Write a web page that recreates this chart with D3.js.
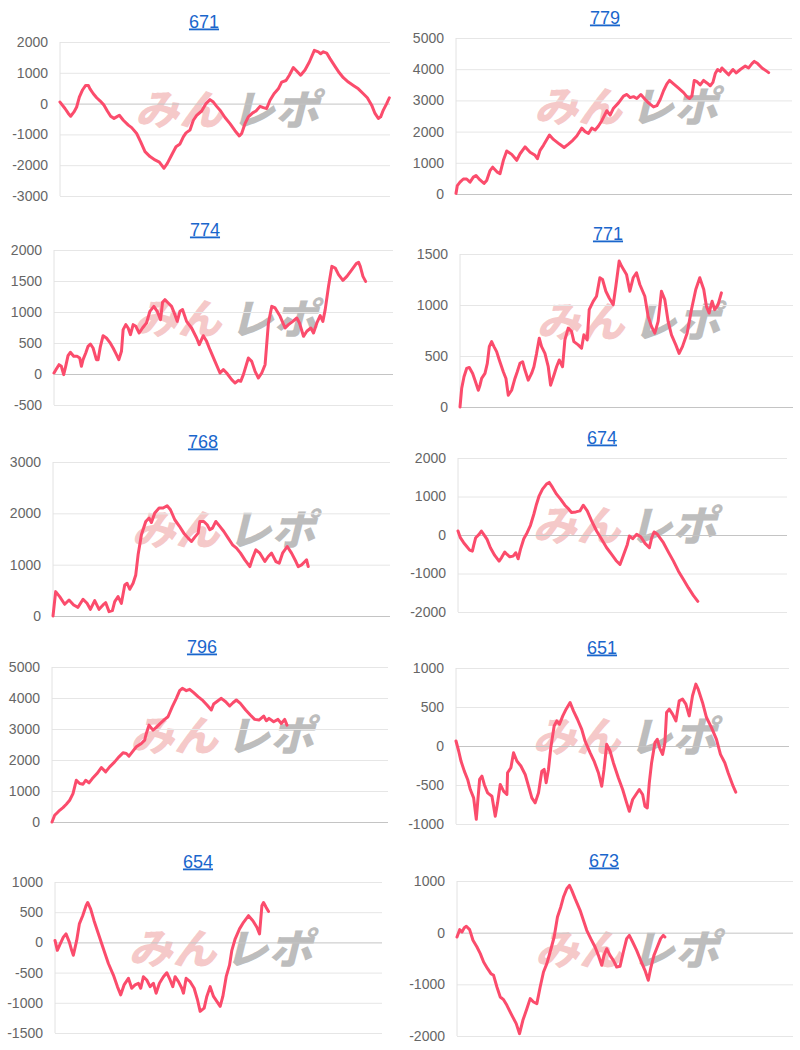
<!DOCTYPE html>
<html><head><meta charset="utf-8">
<script src="https://cdn.jsdelivr.net/npm/d3@7"></script>
<style>body{margin:0;background:#fff;} svg{display:block}</style>
</head><body>
<svg id="c" width="800" height="1050"></svg>
<script>
// ---------- DATA ----------
const machines = ["671","779","774","771","768","674","796","651","654","673"];

const ticks671 = [-3000,-2000,-1000,0,1000,2000];
const ticks779 = [0,1000,2000,3000,4000,5000];
const ticks774 = [-500,0,500,1000,1500,2000];
const ticks771 = [0,500,1000,1500];
const ticks768 = [0,1000,2000,3000];
const ticks674 = [-2000,-1000,0,1000,2000];
const ticks796 = [0,1000,2000,3000,4000,5000];
const ticks651 = [-1000,-500,0,500,1000];
const ticks654 = [-1500,-1000,-500,0,500,1000];
const ticks673 = [-2000,-1000,0,1000];

// x range (games, in units of 10) shown on each chart
const xMax = [990,1007,1015,1000,1010,985,1008,1001,980,1010];

// [games/10, difference]
const s671 = [[0,50],[15,-160],[25,-320],[32,-410],[42,-270],[50,-110],[58,210],[68,450],[77,590],[85,590],[90,480],[100,320],[110,190],[120,90],[132,-50],[142,-240],[152,-410],[162,-480],[170,-430],[178,-380],[190,-540],[205,-700],[215,-780],[230,-970],[242,-1240],[255,-1560],[270,-1720],[285,-1830],[298,-1900],[312,-2100],[322,-1940],[335,-1670],[348,-1400],[360,-1310],[370,-1080],[378,-950],[390,-860],[400,-540],[410,-380],[425,-240],[438,0],[450,130],[460,50],[470,-90],[482,-240],[495,-450],[510,-650],[525,-880],[538,-1050],[545,-970],[555,-650],[565,-430],[578,-300],[588,-240],[600,-90],[610,-130],[620,-160],[630,110],[642,320],[655,480],[665,700],[678,750],[688,920],[700,1170],[710,1060],[722,920],[735,1090],[748,1350],[763,1730],[775,1680],[782,1620],[790,1680],[800,1640],[810,1460],[825,1210],[838,1000],[850,840],[865,700],[880,590],[895,480],[910,320],[922,190],[935,-50],[945,-320],[955,-480],[962,-430],[970,-210],[980,0],[988,190]];
const s779 = [[0,20],[4,270],[12,380],[22,480],[32,480],[42,380],[52,540],[60,590],[72,450],[84,340],[92,430],[102,750],[110,860],[124,700],[132,650],[142,1080],[152,1380],[167,1270],[182,1080],[192,1290],[207,1510],[222,1340],[237,1240],[244,1130],[252,1400],[262,1560],[280,1890],[292,1750],[310,1600],[324,1490],[337,1600],[350,1720],[362,1860],[377,2110],[387,2000],[397,1940],[407,2110],[417,2050],[427,2180],[437,2350],[452,2670],[462,2530],[472,2750],[487,2920],[502,3140],[512,3190],[522,3090],[532,3120],[542,3060],[554,3190],[567,3030],[577,2920],[592,2790],[602,2830],[612,3030],[622,3310],[632,3530],[640,3640],[652,3530],[667,3390],[682,3250],[692,3120],[700,3060],[707,3140],[714,3640],[722,3600],[732,3500],[742,3640],[752,3560],[762,3470],[770,3580],[777,3860],[784,3990],[792,3930],[797,4040],[807,3930],[817,3820],[830,3990],[840,3880],[852,3990],[867,4100],[877,4040],[887,4180],[894,4250],[904,4180],[917,4040],[932,3930],[937,3890]];
const s774 = [[0,16],[7,80],[15,150],[22,124],[29,-10],[35,124],[42,296],[49,350],[59,285],[69,285],[77,258],[82,124],[87,231],[95,339],[102,446],[109,484],[117,419],[127,231],[132,231],[139,446],[147,618],[157,581],[167,511],[177,419],[187,312],[194,231],[202,366],[207,715],[215,796],[222,742],[229,634],[237,796],[245,769],[255,661],[265,742],[277,823],[287,1011],[299,1091],[309,1011],[319,876],[325,1156],[332,1199],[342,1145],[352,1091],[362,957],[369,849],[377,1011],[385,1038],[397,849],[412,742],[427,581],[435,473],[447,618],[457,527],[467,392],[482,204],[497,16],[507,70],[517,16],[532,-91],[542,-145],[552,-102],[559,-118],[567,-11],[582,258],[592,204],[602,43],[612,-65],[622,16],[632,150],[642,823],[652,1091],[662,1065],[677,930],[692,742],[702,796],[715,849],[727,903],[735,823],[747,608],[757,689],[769,742],[777,661],[787,823],[797,941],[805,849],[812,1038],[822,1414],[832,1736],[842,1710],[852,1602],[865,1511],[877,1575],[892,1683],[905,1780],[912,1801],[917,1736],[925,1575],[933,1494]];
const s771 = [[0,0],[5,181],[12,296],[20,378],[28,388],[38,329],[45,263],[55,164],[60,214],[65,280],[75,329],[82,428],[88,592],[95,641],[102,592],[110,543],[118,461],[130,345],[138,280],[145,115],[155,164],[165,280],[172,345],[180,428],[188,444],[195,362],[205,263],[215,329],[222,395],[230,526],[238,674],[245,592],[255,526],[265,395],[272,214],[282,312],[290,395],[298,461],[308,395],[315,658],[325,773],[335,740],[342,641],[355,609],[365,576],[372,707],[382,658],[388,954],[400,1036],[410,1086],[420,1267],[428,1250],[438,1135],[448,1069],[460,1003],[468,1184],[478,1431],[485,1382],[500,1300],[510,1135],[520,1267],[530,1316],[540,1201],[555,1086],[565,888],[575,790],[585,724],[595,839],[605,1135],[615,1053],[625,839],[635,707],[648,609],[658,526],[668,592],[682,724],[695,954],[708,1152],[720,1267],[732,1152],[740,987],[748,921],[757,1036],[765,954],[775,1003],[785,1119]];
const s768 = [[0,0],[8,475],[20,378],[35,228],[48,312],[62,215],[75,169],[90,326],[102,247],[112,130],[125,300],[138,130],[150,215],[158,260],[168,85],[178,104],[185,280],[195,378],[205,247],[215,605],[222,638],[230,521],[240,638],[248,800],[255,1191],[265,1582],[278,1842],[288,1907],[295,1823],[305,2005],[318,2103],[330,2103],[342,2148],[352,2070],[365,1875],[378,1758],[392,1614],[405,1517],[415,1452],[425,1536],[435,1614],[440,1842],[452,1842],[462,1777],[470,1680],[478,1712],[488,1842],[500,1745],[512,1647],[525,1517],[538,1387],[550,1322],[562,1224],[575,1094],[590,963],[598,1126],[608,1289],[620,1224],[635,1061],[645,1159],[655,1224],[668,1061],[678,1029],[688,1224],[702,1354],[715,1224],[728,1061],[735,963],[745,996],[755,1061],[760,1094],[765,963]];
const s674 = [[0,104],[7,-70],[17,-200],[25,-287],[35,-392],[43,-418],[47,-270],[53,-70],[63,17],[70,104],[77,17],[87,-113],[97,-331],[110,-531],[123,-679],[130,-592],[140,-444],[147,-505],[155,-566],[165,-548],[173,-461],[180,-618],[187,-374],[197,-96],[207,61],[217,252],[227,539],[235,800],[243,1018],[253,1192],[265,1322],[273,1366],[283,1235],[295,1061],[307,931],[320,774],[330,687],[340,583],[353,600],[365,626],[375,774],[387,626],[400,365],[415,104],[430,-113],[445,-331],[460,-505],[473,-661],[485,-766],[495,-531],[507,-244],[513,-26],[523,-96],[535,17],[547,-44],[560,-218],[573,-331],[580,-70],[587,78],[597,17],[615,-200],[630,-444],[645,-679],[660,-940],[675,-1157],[690,-1375],[705,-1575],[718,-1723]];
const s796 = [[0,0],[8,216],[15,291],[23,377],[33,464],[43,571],[53,701],[63,916],[73,1348],[83,1240],[93,1218],[101,1348],[111,1261],[121,1401],[135,1563],[148,1757],[161,1617],[173,1779],[188,1940],[201,2102],[213,2231],[223,2210],[231,2124],[241,2264],[253,2426],[268,2533],[278,2641],[283,2857],[291,3126],[303,2965],[313,3051],[325,3180],[338,3310],[348,3396],[361,3719],[373,3989],[383,4237],[391,4312],[403,4237],[413,4280],[425,4172],[438,4043],[453,3913],[465,3773],[478,3612],[485,3805],[498,3913],[508,3989],[521,3881],[533,3741],[543,3848],[553,3935],[565,3827],[581,3612],[595,3450],[608,3310],[621,3288],[635,3417],[643,3266],[651,3342],[665,3234],[678,3310],[688,3180],[698,3310],[705,3126]];
const s651 = [[0,64],[8,-64],[15,-193],[25,-322],[35,-429],[43,-558],[53,-665],[61,-940],[65,-729],[71,-429],[78,-386],[85,-493],[95,-601],[108,-644],[118,-900],[125,-729],[133,-493],[143,-579],[153,-622],[155,-343],[165,-279],[173,-86],[183,-193],[195,-257],[208,-365],[218,-515],[228,-665],[238,-729],[248,-601],[258,-322],[265,-300],[271,-472],[278,-300],[285,-21],[295,257],[303,322],[311,279],[321,386],[331,472],[343,558],[353,450],[365,343],[378,214],[388,64],[403,-86],[415,-193],[428,-343],[438,-515],[445,-300],[453,21],[463,-64],[473,-214],[488,-408],[501,-558],[513,-729],[521,-837],[531,-686],[541,-622],[551,-558],[561,-622],[568,-772],[575,-794],[581,-472],[588,-214],[598,43],[605,86],[613,-34],[621,-107],[628,43],[633,429],[641,472],[651,408],[661,322],[671,579],[681,601],[691,536],[701,386],[711,644],[721,794],[728,729],[741,558],[753,365],[768,236],[783,86],[795,-107],[808,-214],[818,-343],[833,-515],[841,-592]];
const s654 = [[0,33],[7,-131],[15,-33],[25,87],[33,142],[43,5],[50,-131],[55,-213],[65,33],[73,306],[83,442],[93,606],[98,661],[107,551],[117,360],[130,142],[145,-104],[160,-349],[175,-541],[187,-732],[197,-868],[207,-704],[220,-595],[230,-759],[240,-704],[250,-677],[257,-759],[265,-568],[275,-622],[285,-732],[295,-677],[303,-841],[313,-677],[325,-568],[335,-502],[345,-622],[353,-732],[360,-568],[370,-650],[380,-759],[385,-841],[393,-595],[405,-650],[417,-759],[427,-950],[435,-1141],[447,-1087],[455,-895],[465,-732],[475,-895],[485,-977],[495,-1059],[503,-895],[513,-568],[523,-377],[530,-131],[540,60],[553,224],[565,333],[580,442],[593,360],[605,251],[613,142],[620,606],[625,661],[633,579],[640,513]];
const s673 = [[0,-84],[8,58],[15,13],[22,97],[28,123],[38,58],[48,-148],[60,-277],[70,-406],[80,-568],[92,-697],[102,-793],[110,-826],[120,-1051],[130,-1245],[140,-1297],[150,-1406],[165,-1600],[178,-1761],[188,-1955],[198,-1697],[210,-1471],[220,-1277],[230,-1342],[240,-1374],[250,-1051],[260,-761],[270,-600],[280,-374],[292,-84],[302,303],[312,497],[320,690],[330,851],[338,916],[345,819],[355,658],[370,432],[380,239],[390,45],[402,-116],[415,-277],[425,-439],[435,-632],[442,-439],[450,-310],[460,-439],[470,-535],[480,-664],[490,-651],[500,-374],[510,-116],[518,-52],[528,-181],[540,-342],[552,-535],[565,-729],[575,-922],[582,-697],[592,-439],[602,-277],[612,-116],[620,-52],[625,-84]];

const allTicks = [ticks671,ticks779,ticks774,ticks771,ticks768,ticks674,ticks796,ticks651,ticks654,ticks673];
const allSeries = [s671,s779,s774,s771,s768,s674,s796,s651,s654,s673];

// ---------- LAYOUT (plot boxes) ----------
const layout = [
  {l:60, t:42, r:390, b:196, tx:204},
  {l:456,t:38, r:792, b:194, tx:605},
  {l:54, t:250,r:393, b:405, tx:205},
  {l:460,t:254,r:793, b:407, tx:608},
  {l:53, t:462,r:390, b:616, tx:203},
  {l:458,t:458,r:787, b:612, tx:602},
  {l:52, t:667,r:388, b:822, tx:202},
  {l:456,t:668,r:789, b:824, tx:602},
  {l:55, t:882,r:382, b:1033,tx:198},
  {l:457,t:881,r:793, b:1036,tx:604}
];

const table = machines.map((m,i)=>({name:m, ticks:allTicks[i], data:allSeries[i], xMax:xMax[i], box:layout[i]}));

const svg = d3.select("#c");
const FONT = "'Liberation Sans', Arial, Helvetica, sans-serif";
const LINE = "#fb4c6c";

table.forEach(p=>{
  const B = p.box;
  const g = svg.append("g");
  const x = d3.scaleLinear().domain([0,p.xMax]).range([B.l,B.r]);
  const y = d3.scaleLinear().domain(d3.extent(p.ticks)).range([B.b,B.t]);

  // watermark
  const cx = (B.l+B.r)/2, cy = (B.t+B.b)/2;
  const wm = g.append("g").attr("transform",`translate(${cx},${cy+6}) skewX(-14)`);
  wm.append("text").attr("x",-90).attr("y",0).text("みん")
    .attr("font-family","'Noto Sans CJK JP', sans-serif").attr("font-weight",900)
    .attr("font-size",42).attr("textLength",88).attr("lengthAdjust","spacingAndGlyphs")
    .attr("fill","#ee9a9a").attr("fill-opacity",0.55);
  wm.append("text").attr("x",6).attr("y",0).text("レポ")
    .attr("font-family","'Noto Sans CJK JP', sans-serif").attr("font-weight",900)
    .attr("font-size",42).attr("textLength",88).attr("lengthAdjust","spacingAndGlyphs")
    .attr("fill","#a8a8a8").attr("fill-opacity",0.75);

  // y axis with grid
  const ax = g.append("g").attr("transform",`translate(${B.l},0)`)
    .call(d3.axisLeft(y).tickValues(p.ticks).tickSize(-(B.r-B.l)).tickPadding(12).tickFormat(d=>String(d)));
  ax.select(".domain").remove();
  ax.selectAll(".tick line").attr("stroke",d=>d===0?"#c4c4c4":"#e6e6e6").attr("stroke-width",1);
  ax.selectAll(".tick text").attr("fill","#666").attr("font-size",14).attr("font-family",FONT);
  g.append("line").attr("x1",B.l).attr("x2",B.l).attr("y1",B.t).attr("y2",B.b)
    .attr("stroke","#e2e2e2").attr("stroke-width",1);

  // title
  g.append("text").attr("x",B.tx).attr("y",B.t-14.5).attr("text-anchor","middle")
    .attr("font-family",FONT).attr("font-size",18).attr("fill","#1a66cc")
    .attr("text-decoration","underline").text(p.name);

  // line
  const line = d3.line().x(d=>x(d[0])).y(d=>y(d[1]));
  g.append("path").datum(p.data).attr("d",line).attr("fill","none")
    .attr("stroke",LINE).attr("stroke-width",3).attr("stroke-linejoin","round").attr("stroke-linecap","round");
});
</script>
</body></html>
